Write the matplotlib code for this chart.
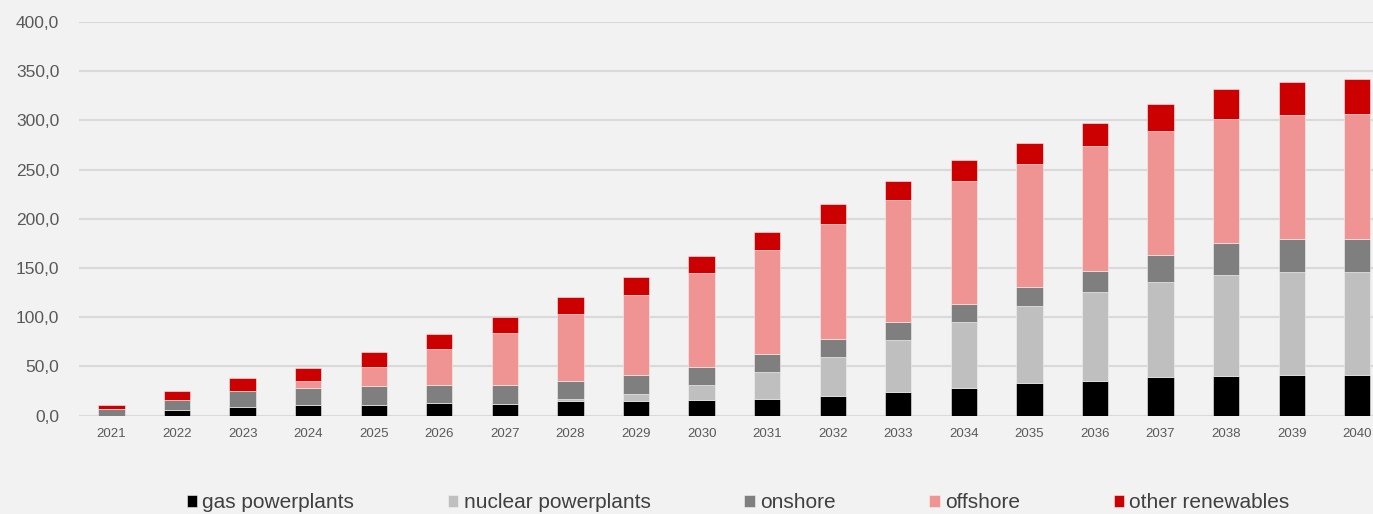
import matplotlib.pyplot as plt
import numpy as np

years = [str(y) for y in range(2021, 2041)]
gas = [0.0, 5.4, 8.4, 10.5, 11.2, 12.5, 12.2, 14.5, 14.5, 15.5,
       17.3, 20.0, 23.7, 28.4, 32.8, 35.5, 38.9, 40.3, 40.9, 41.6]
nuclear = [0.0, 0.0, 0.0, 0.0, 0.0, 0.0, 0.0, 2.8, 7.8, 16.0,
           27.1, 40.0, 53.1, 66.3, 78.9, 89.7, 97.4, 102.5, 105.3, 104.6]
onshore = [7.0, 10.8, 17.0, 18.0, 18.6, 18.3, 18.6, 17.9, 18.6, 18.2,
           18.2, 18.2, 18.3, 18.3, 18.6, 22.3, 26.9, 32.8, 33.5, 33.5]
offshore = [0.0, 0.0, 0.0, 6.4, 19.6, 36.5, 52.8, 68.4, 82.2, 94.8,
            105.9, 117.0, 123.9, 125.9, 125.8, 126.5, 126.0, 125.9, 125.9, 126.9]
other = [3.5, 8.5, 12.5, 14.0, 15.3, 15.6, 16.9, 17.2, 18.0, 18.2,
         18.6, 19.8, 19.9, 21.0, 21.1, 23.8, 27.6, 30.2, 33.2, 35.5]

series = [
    ("gas powerplants", gas, "#000000"),
    ("nuclear powerplants", nuclear, "#bfbfbf"),
    ("onshore", onshore, "#7f7f7f"),
    ("offshore", offshore, "#ef9393"),
    ("other renewables", other, "#cc0000"),
]

plt.rcParams['font.family'] = ['Liberation Sans', 'DejaVu Sans']

W, H = 1373, 514
fig = plt.figure(figsize=(W / 100, H / 100), dpi=100, facecolor="#f2f2f2")
left, right, bottom, top = 78.7, 1390, 415.7, 22
ax = fig.add_axes([left / W, (H - bottom) / H, (right - left) / W, (bottom - top) / H])
ax.set_facecolor("#f2f2f2")

x = np.arange(len(years))
base = np.zeros(len(years))
for name, vals, col in series:
    ax.bar(x, vals, width=0.4, bottom=base, color=col, label=name,
           edgecolor="#f2f2f2", linewidth=0.4, zorder=3)
    base += np.array(vals)

ax.set_xlim(-0.5, len(years) - 0.5)
ax.set_ylim(0, 400)
ax.set_yticks(np.arange(0, 401, 50))
ax.set_yticklabels([f"{v:.1f}".replace(".", ",") for v in np.arange(0, 401, 50)])
ax.set_xticks(x)
ax.set_xticklabels(years)
ax.tick_params(axis="y", length=0, pad=14, labelsize=12.5, labelcolor="#595959")
ax.tick_params(axis="x", length=0, pad=9, labelsize=9.5, labelcolor="#595959")
ax.yaxis.grid(True, color="#d9d9d9", linewidth=1.5, zorder=0)
ax.set_axisbelow(True)
for s in ax.spines.values():
    s.set_visible(False)

fig.legend(loc="center", bbox_to_anchor=(738 / W, 11 / H), ncol=5, frameon=False,
           fontsize=15, handlelength=0.5, handleheight=0.5, handletextpad=0.25,
           columnspacing=4.5, labelcolor="#404040")

fig.savefig("out.png", dpi=100, facecolor=fig.get_facecolor())
